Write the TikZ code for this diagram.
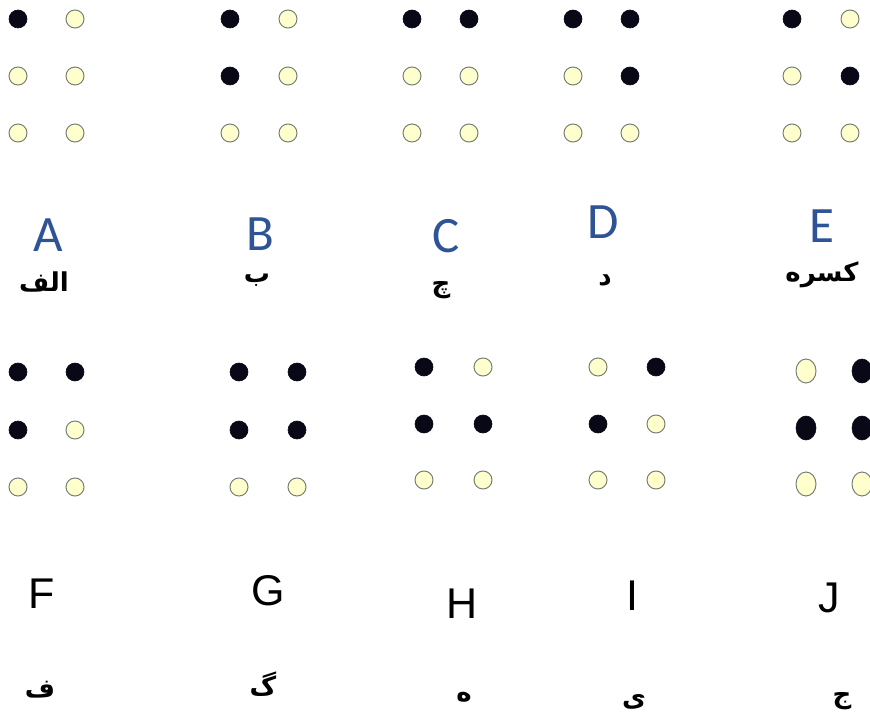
\documentclass[tikz,border=0pt]{standalone}
\usepackage{fontspec}
\usetikzlibrary{shapes.geometric}
\TeXXeTstate=1
\newfontfamily\carlito{Carlito}
\newfontfamily\libsans{Liberation Sans}
\newfontfamily\arabicfont[Script=Arabic]{DejaVu Sans}
\definecolor{capblue}{RGB}{46,84,150}
\definecolor{dotfill}{RGB}{255,255,205}
\definecolor{dotrim}{RGB}{120,128,118}
\definecolor{dotink}{RGB}{8,8,22}
\tikzset{
  dotOn/.style={circle,fill=dotink,draw=dotink,line width=0.6pt,minimum size=18pt,inner sep=0pt},
  dotOff/.style={circle,fill=dotfill,draw=dotrim,line width=1pt,minimum size=18pt,inner sep=0pt},
  bigOn/.style={ellipse,fill=dotink,draw=dotink,line width=0.6pt,minimum width=20pt,minimum height=24pt,inner sep=0pt},
  bigOff/.style={ellipse,fill=dotfill,draw=dotrim,line width=1pt,minimum width=20pt,minimum height=24pt,inner sep=0pt},
  bluecap/.style={text=capblue,font=\carlito\fontsize{51}{56}\selectfont,inner sep=0pt},
  blackcap/.style={text=black,font=\libsans\fontsize{43}{48}\selectfont,inner sep=0pt},
  fa/.style={text=black,font=\arabicfont\bfseries\fontsize{26}{30}\selectfont,inner sep=0pt}
}
\newcommand\bcell[6]{%
  \foreach \st [count=\i] in {#5} {%
    \pgfmathsetmacro\yy{{#4}[\i-1]}%
    \node[\st] (#1l\i) at (#2,-\yy) {};}%
  \foreach \st [count=\i] in {#6} {%
    \pgfmathsetmacro\yy{{#4}[\i-1]}%
    \node[\st] (#1r\i) at (#3,-\yy) {};}}
\begin{document}
\begin{tikzpicture}[x=1pt,y=1pt]
\useasboundingbox (0,0) rectangle (870,-719);
% row 1 cells
\bcell{A}{18}{75}{19,76,133}{dotOn,dotOff,dotOff}{dotOff,dotOff,dotOff}
\bcell{B}{230}{288}{19,76,133}{dotOn,dotOn,dotOff}{dotOff,dotOff,dotOff}
\bcell{C}{412}{469}{19,76,133}{dotOn,dotOff,dotOff}{dotOn,dotOff,dotOff}
\bcell{D}{573}{630}{19,76,133}{dotOn,dotOff,dotOff}{dotOn,dotOn,dotOff}
\bcell{E}{792}{850}{19,76,133}{dotOn,dotOff,dotOff}{dotOff,dotOn,dotOff}
% row 1 labels
\node[bluecap] (tA) at (48,-235) {A};
\node[bluecap] (tB) at (260,-234) {B};
\node[bluecap] (tC) at (446,-236) {C};
\node[bluecap] (tD) at (603,-222) {D};
\node[bluecap] (tE) at (822,-226) {E};
\node[fa] (fA) at (44,-282) {\beginR الف\endR};
\node[fa] (fB) at (257,-280) {\beginR ب\endR};
\node[fa] (fC) at (441,-290) {\beginR چ\endR};
\node[fa] (fD) at (605,-280) {\beginR د\endR};
\node[fa] (fE) at (822,-275) {\beginR کسره\endR};
% row 2 cells
\bcell{F}{18}{75}{372,430,487}{dotOn,dotOn,dotOff}{dotOn,dotOff,dotOff}
\bcell{G}{239}{297}{372,430,487}{dotOn,dotOn,dotOff}{dotOn,dotOn,dotOff}
\bcell{H}{424}{483}{367,424,480}{dotOn,dotOn,dotOff}{dotOff,dotOn,dotOff}
\bcell{I}{598}{656}{367,424,480}{dotOff,dotOn,dotOff}{dotOn,dotOff,dotOff}
\bcell{J}{806}{862}{371,428,484}{bigOff,bigOn,bigOff}{bigOn,bigOn,bigOff}
% row 2 labels
\node[blackcap] (tF) at (42,-594) {F};
\node[blackcap] (tG) at (268,-591) {G};
\node[blackcap] (tH) at (462,-604) {H};
\node[blackcap] (tI) at (632,-596) {I};
\node[blackcap] (tJ) at (829,-598) {J};
\node[fa] (fF) at (40,-690) {\beginR ف\endR};
\node[fa] (fG) at (263,-684) {\beginR گ\endR};
\node[fa] (fH) at (464,-697) {\beginR ه\endR};
\node[fa] (fI) at (634,-702) {\beginR ی\endR};
\node[fa] (fJ) at (842,-701) {\beginR ج\endR};
\end{tikzpicture}
\end{document}
